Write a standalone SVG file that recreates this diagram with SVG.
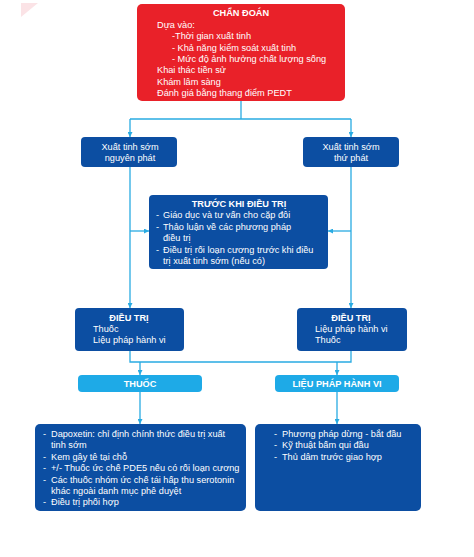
<svg xmlns="http://www.w3.org/2000/svg" width="474" height="557" viewBox="0 0 474 557">
<style>
.t{font-family:"Liberation Sans",Arial,sans-serif;font-size:9.2px;fill:#fff}
.b{font-weight:bold}
.red{fill:#e92129}
.dk{fill:#0c4ea2}
.lt{fill:#1eaae7}
.c{fill:none;stroke:#29abe2;stroke-width:1.3}
</style>
<defs>
<marker id="a" viewBox="0 0 10 10" refX="10" refY="5" markerWidth="5" markerHeight="5" markerUnits="userSpaceOnUse" orient="auto"><path d="M0,0L10,5L0,10z" fill="#29abe2"/></marker>
</defs>
<rect width="474" height="557" fill="#fff"/>
<polygon points="21,3 38,3 21,17" fill="#fbe3e6"/>
<g id="connectors">
<path class="c" d="M241,101V119"/>
<path class="c" d="M130,119H351"/>
<path class="c" d="M130,119V137" marker-end="url(#a)"/>
<path class="c" d="M351,119V137" marker-end="url(#a)"/>
<path class="c" d="M130,167V308" marker-end="url(#a)"/>
<path class="c" d="M351,167V308" marker-end="url(#a)"/>
<path class="c" d="M130,231H149" marker-end="url(#a)"/>
<path class="c" d="M351,231H328" marker-end="url(#a)"/>
<path class="c" d="M130,351V362H351V351"/>
<path class="c" d="M140,362V375" marker-end="url(#a)"/>
<path class="c" d="M337,362V375" marker-end="url(#a)"/>
<path class="c" d="M140,392V424" marker-end="url(#a)"/>
<path class="c" d="M337,392V424" marker-end="url(#a)"/>
</g>
<g id="chan-doan">
<rect class="red" x="137" y="4" width="208" height="97" rx="5"/>
<text class="t b" x="241" y="16" text-anchor="middle">CHẨN ĐOÁN</text>
<text class="t" x="157" y="28">Dựa vào:</text>
<text class="t" x="172" y="39">-Thời gian xuất tinh</text>
<text class="t" x="172" y="50.5">- Khả năng kiểm soát xuất tinh</text>
<text class="t" x="172" y="62">- Mức độ ảnh hưởng chất lượng sống</text>
<text class="t" x="157" y="73">Khai thác tiền sử</text>
<text class="t" x="157" y="84.5">Khám lâm sàng</text>
<text class="t" x="157" y="96">Đánh giá bằng thang điểm PEDT</text>
</g>
<g id="nguyen-phat">
<rect class="dk" x="81" y="137" width="96" height="30" rx="4"/>
<text class="t" x="130" y="149.5" text-anchor="middle">Xuất tinh sớm</text>
<text class="t" x="130" y="161" text-anchor="middle">nguyên phát</text>
</g>
<g id="thu-phat">
<rect class="dk" x="303" y="137" width="96" height="30" rx="4"/>
<text class="t" x="351" y="149.5" text-anchor="middle">Xuất tinh sớm</text>
<text class="t" x="351" y="161" text-anchor="middle">thứ phát</text>
</g>
<g id="truoc-khi-dieu-tri">
<rect class="dk" x="149" y="195" width="179" height="74" rx="4"/>
<text class="t b" x="239" y="206.5" text-anchor="middle">TRƯỚC KHI ĐIỀU TRỊ</text>
<text class="t" x="156" y="218">-</text><text class="t" x="163" y="218">Giáo dục và tư vấn cho cặp đôi</text>
<text class="t" x="156" y="229.5">-</text><text class="t" x="163" y="229.5">Thảo luận về các phương pháp</text>
<text class="t" x="163" y="241">điều trị</text>
<text class="t" x="156" y="252.5">-</text><text class="t" x="163" y="252.5">Điều trị rối loạn cương trước khi điều</text>
<text class="t" x="163" y="264">trị xuất tinh sớm (nếu có)</text>
</g>
<g id="dieu-tri-1">
<rect class="dk" x="75" y="308" width="109" height="43" rx="4"/>
<text class="t b" x="129" y="320.5" text-anchor="middle">ĐIỀU TRỊ</text>
<text class="t" x="93" y="331.5">Thuốc</text>
<text class="t" x="93" y="343">Liệu pháp hành vi</text>
</g>
<g id="dieu-tri-2">
<rect class="dk" x="297" y="308" width="110" height="43" rx="4"/>
<text class="t b" x="351" y="320.5" text-anchor="middle">ĐIỀU TRỊ</text>
<text class="t" x="315" y="331.5">Liệu pháp hành vi</text>
<text class="t" x="315" y="343">Thuốc</text>
</g>
<g id="thuoc">
<rect class="lt" x="78" y="375" width="124" height="17" rx="4"/>
<text class="t b" x="140" y="386.5" text-anchor="middle">THUỐC</text>
</g>
<g id="lieu-phap">
<rect class="lt" x="275" y="375" width="124" height="17" rx="4"/>
<text class="t b" x="337" y="387" text-anchor="middle">LIỆU PHÁP HÀNH VI</text>
</g>
<g id="thuoc-list">
<rect class="dk" x="35" y="424" width="211" height="87" rx="5"/>
<text class="t" x="43" y="436.5">-</text><text class="t" x="51" y="436.5">Dapoxetin: chỉ định chính thức điều trị xuất</text>
<text class="t" x="51" y="448">tinh sớm</text>
<text class="t" x="43" y="459.5">-</text><text class="t" x="51" y="459.5">Kem gây tê tại chỗ</text>
<text class="t" x="43" y="471">-</text><text class="t" x="51" y="471">+/- Thuốc ức chế PDE5 nếu có rối loạn cương</text>
<text class="t" x="43" y="482.5">-</text><text class="t" x="51" y="482.5">Các thuốc nhóm ức chế tái hấp thu serotonin</text>
<text class="t" x="51" y="494">khác ngoài danh mục phê duyệt</text>
<text class="t" x="43" y="505">-</text><text class="t" x="51" y="505">Điều trị phối hợp</text>
</g>
<g id="lieu-phap-list">
<rect class="dk" x="255" y="424" width="166" height="87" rx="5"/>
<text class="t" x="274" y="436.5">-</text><text class="t" x="282" y="436.5">Phương pháp dừng - bắt đầu</text>
<text class="t" x="274" y="448">-</text><text class="t" x="282" y="448">Kỹ thuật bấm qui đầu</text>
<text class="t" x="274" y="459.5">-</text><text class="t" x="282" y="459.5">Thủ dâm trước giao hợp</text>
</g>
</svg>
